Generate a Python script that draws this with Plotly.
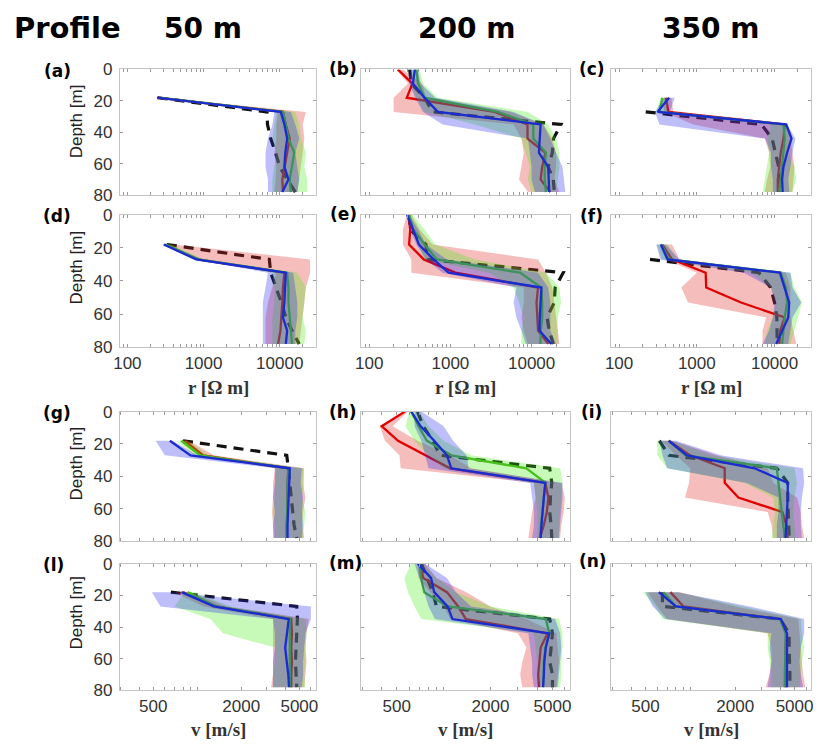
import plotly.graph_objects as go

W, H = 824, 753

# ---------------- data ----------------
depth_full = [0, 9, 18, 27, 35, 44, 53, 62, 70, 78]
depth_sub = [18, 27, 35, 44, 53, 62, 70, 78]

rho_ticks = [100, 1000, 10000]
vel_ticks = [500, 2000, 5000]

# (a)
a_true = [250, 6800, 6900, 7600, 8800, 10000, 12500, 16000]
a_red = [250, 11000, 12000, 13500, 12500, 11500, 10800, 11000]
a_green = [260, 11000, 12000, 13000, 15500, 14500, 13500, 14000]
a_blue = [245, 10300, 11500, 12500, 11800, 11500, 13000, 10800]
a_red_lo = [235, 9500, 9000, 9000, 8500, 9000, 8800, 8500]
a_red_hi = [270, 22000, 20000, 21000, 20000, 19000, 18000, 17000]
a_green_lo = [240, 9000, 8500, 8000, 9000, 8500, 8000, 8000]
a_green_hi = [280, 16000, 18000, 19000, 22000, 21000, 23000, 23000]
a_blue_lo = [230, 8500, 8000, 7000, 6500, 6500, 7000, 7000]
a_blue_hi = [265, 14000, 16000, 18000, 16000, 17000, 18000, 17000]

# (b)
b_true = [315, 330, 480, 600, 23000, 18600, 18000, 16000, 18500, 19000]
b_red = [225, 340, 290, 3500, 8900, 8900, 14800, 13500, 12900, 17000]
b_green = [380, 400, 480, 3800, 10500, 10500, 15000, 14500, 14500, 15000]
b_blue = [365, 345, 480, 700, 12900, 12600, 12300, 16000, 16300, 16500]
b_red_lo = [215, 300, 200, 200, 6000, 7500, 8000, 7500, 7000, 9000]
b_red_hi = [260, 450, 500, 5500, 14000, 18000, 20000, 20000, 19000, 22000]
b_green_lo = [330, 330, 380, 480, 2000, 7500, 8500, 9500, 9000, 10000]
b_green_hi = [420, 460, 700, 9000, 16000, 20000, 22000, 22000, 21000, 20000]
b_blue_lo = [320, 310, 370, 460, 800, 9000, 9500, 10000, 10000, 11000]
b_blue_hi = [400, 430, 650, 6000, 14000, 17000, 20000, 24000, 25000, 26000]

# (c)
c_true = [None, 220, 6800, 9300, 10300, 11300, 11500, 11500]
c_red = [400, 430, 13500, 13000, 12000, 11500, 11000, 11000]
c_green = [360, 330, 13000, 13500, 13000, 12500, 12000, 11500]
c_blue = [440, 313, 14100, 16500, 14500, 13000, 12500, 12700]
c_red_lo = [370, 380, 900, 7500, 8500, 8800, 8000, 7500]
c_red_hi = [470, 500, 14500, 16000, 17000, 18000, 17500, 17000]
c_green_lo = [340, 300, 9000, 8000, 8500, 8000, 7500, 7000]
c_green_hi = [420, 420, 15000, 17000, 15000, 18000, 19000, 17000]
c_blue_lo = [380, 290, 330, 7500, 9000, 9000, 9500, 9500]
c_blue_hi = [520, 450, 14500, 18500, 17000, 16000, 15000, 15500]

# (d)
d_true = [330, 7300, 7600, 9000, 10500, 12000, 14500, 18000]
d_red = [310, 850, 11500, 11000, 10800, 10500, 10200, 9500]
d_green = [320, 850, 12500, 13000, 13000, 13500, 14000, 14500]
d_blue = [300, 800, 12000, 11800, 11500, 11000, 12500, 12000]
d_red_lo = [300, 850, 9000, 8000, 7000, 6500, 6500, 6500]
d_red_hi = [400, 25000, 25000, 22000, 21000, 20000, 19000, 18000]
d_green_lo = [310, 800, 8000, 8500, 8500, 8000, 8000, 8000]
d_green_hi = [380, 1000, 17000, 22000, 21000, 20000, 22000, 21000]
d_blue_lo = [290, 750, 7000, 6500, 6000, 6000, 6000, 6000]
d_blue_hi = [340, 950, 15000, 16000, 17000, 17000, 16000, 16000]

# (e)
e_true = [310, 320, 500, 520, 24500, 19500, 19000, 15500, 16500, 18500]
e_red = [305, 320, 310, 470, 1150, 12000, 11500, 11700, 12000, 16000]
e_green = [310, 350, 480, 680, 7200, 13200, 13500, 13500, 13000, 12800]
e_blue = [293, 350, 410, 620, 950, 13200, 12800, 12600, 12500, 17500]
e_red_lo = [290, 260, 260, 330, 330, 8000, 8000, 7500, 8000, 9000]
e_red_hi = [330, 420, 600, 12000, 15000, 18000, 19000, 20000, 21000, 22000]
e_green_lo = [300, 330, 400, 480, 3000, 6000, 7000, 8000, 7500, 7500]
e_green_hi = [340, 480, 650, 2000, 15000, 22000, 23000, 21000, 21000, 21000]
e_blue_lo = [285, 320, 380, 500, 800, 6500, 6000, 6500, 7500, 8500]
e_blue_hi = [310, 400, 500, 900, 12000, 16000, 17000, 17000, 17000, 20000]

# (f)
f_true = [None, 250, 6300, 8900, 10000, 10700, 10800, 10800]
f_red = [360, 480, 1300, 1320, 3700, 13500, 11800, 11500]
f_green = [350, 440, 12000, 14000, 14500, 13500, 13000, 12500]
f_blue = [345, 420, 11700, 13500, 15400, 15000, 12500, 10500]
f_red_lo = [330, 400, 1000, 630, 770, 7800, 7000, 7000]
f_red_hi = [480, 600, 14000, 16000, 16000, 16000, 17500, 19000]
f_green_lo = [310, 350, 5000, 9000, 10500, 9500, 8000, 7500]
f_green_hi = [420, 550, 16000, 18000, 22500, 20000, 18000, 16000]
f_blue_lo = [300, 340, 4000, 9000, 10000, 9500, 8500, 7000]
f_blue_hi = [400, 600, 16000, 17000, 22000, 17000, 16000, 15000]

# (g)
g_true = [800, 4100, 4200, 4300, 4400, 4500, 4600, 4800]
g_red = [820, 1100, 4200, 4150, 4150, 4150, 4100, 4100]
g_green = [780, 1050, 4200, 4150, 4150, 4100, 4100, 4100]
g_blue = [650, 900, 4300, 4250, 4200, 4200, 4150, 4150]
g_red_lo = [760, 1000, 3400, 3300, 3300, 3250, 3300, 3300]
g_red_hi = [880, 1300, 5400, 5300, 5500, 5300, 5200, 5400]
g_green_lo = [720, 950, 3500, 3400, 3400, 3300, 3400, 3400]
g_green_hi = [860, 1200, 5300, 5400, 5200, 5500, 5400, 5300]
g_blue_lo = [520, 600, 3400, 3400, 3300, 3400, 3300, 3350]
g_blue_hi = [680, 1000, 5200, 5100, 5300, 5200, 5300, 5200]

# (h)
h_true = [680, 740, 850, 950, 4800, 4950, 4850, 4800, 4900, 4950]
h_red = [565, 400, 510, 760, 1100, 4500, 4700, 4600, 4400, 4150]
h_green = [620, 690, 780, 1120, 3400, 4500, 4400, 4300, 4250, 4150]
h_blue = [620, 710, 870, 1050, 1120, 4500, 4400, 4300, 4250, 4200]
h_red_lo = [560, 390, 420, 520, 530, 3800, 3900, 3700, 3600, 3500]
h_red_hi = [590, 470, 680, 1100, 1500, 5700, 6000, 5900, 5700, 5600]
h_green_lo = [600, 570, 650, 800, 1000, 3800, 3900, 4000, 4000, 4000]
h_green_hi = [700, 800, 1000, 1500, 5600, 5800, 5700, 5600, 5500, 5500]
h_blue_lo = [650, 650, 720, 760, 800, 3600, 3700, 3800, 3800, 3700]
h_blue_hi = [720, 1000, 1150, 1400, 1450, 5800, 5800, 5700, 5600, 5500]

# (i)
i_true = [620, 720, 3800, 4500, 4500, 4550, 4600, 4600]
i_red = [716, 1000, 1700, 1700, 2100, 4150, 4400, 4500]
i_green = [716, 930, 3800, 3900, 4000, 4100, 4200, 4300]
i_blue = [716, 950, 2700, 4500, 4500, 4450, 4400, 4350]
i_red_lo = [640, 800, 1000, 980, 920, 3300, 3500, 3600]
i_red_hi = [760, 1500, 3300, 3600, 5200, 5500, 5600, 5800]
i_green_lo = [600, 600, 700, 2300, 3600, 3700, 3600, 3500]
i_green_hi = [760, 1400, 5000, 5200, 5000, 4900, 5000, 5100]
i_blue_lo = [620, 650, 700, 2400, 3900, 3900, 3800, 3800]
i_blue_hi = [800, 1600, 5700, 5800, 5600, 5500, 5500, 5600]

# (l)
l_true = [660, 4800, 4850, 4800, 4750, 4700, 4750, 4800]
l_red = [800, 1350, 4400, 4450, 4400, 4450, 4400, 4400]
l_green = [860, 1350, 4300, 4300, 4300, 4300, 4300, 4300]
l_blue = [780, 1300, 4230, 4100, 4000, 4100, 4200, 4250]
l_red_lo = [700, 1100, 3300, 3300, 3300, 3300, 3300, 3200]
l_red_hi = [900, 1600, 5800, 5600, 5500, 5600, 5500, 5400]
l_green_lo = [820, 700, 1230, 1500, 3400, 3400, 3300, 3300]
l_green_hi = [950, 1700, 5500, 5600, 5500, 5500, 5400, 5500]
l_blue_lo = [490, 560, 3300, 3400, 3400, 3300, 3300, 3300]
l_blue_hi = [650, 6000, 6000, 5500, 5400, 5300, 5300, 5200]

# (m)
m_true = [720, 780, 850, 900, 4800, 5000, 4900, 4800, 5000, 5000]
m_red = [700, 740, 1050, 1240, 1390, 4650, 4200, 4100, 4050, 4100]
m_green = [700, 716, 750, 1060, 4530, 4770, 4500, 4400, 4400, 4350]
m_blue = [683, 830, 870, 1060, 1140, 4770, 4530, 4430, 4400, 4350]
m_red_lo = [680, 690, 820, 1000, 1100, 3000, 3400, 3200, 3100, 3200]
m_red_hi = [760, 900, 1400, 2000, 3400, 5300, 5400, 5500, 5400, 5300]
m_green_lo = [620, 560, 590, 650, 720, 3800, 3900, 4000, 4000, 4100]
m_green_hi = [740, 900, 1200, 2000, 5500, 5800, 5800, 5700, 5700, 5600]
m_blue_lo = [650, 700, 750, 800, 880, 3500, 3600, 3700, 3700, 3800]
m_blue_hi = [760, 1050, 1200, 1500, 5200, 5600, 5700, 5600, 5500, 5400]

# (n)
n_true = [650, 650, 4000, 4600, 4600, 4650, 4650, 4650]
n_red = [735, 900, 4000, 4400, 4350, 4350, 4350, 4350]
n_green = [660, 800, 4000, 4350, 4350, 4300, 4300, 4300]
n_blue = [615, 800, 4050, 4450, 4450, 4450, 4450, 4450]
n_red_lo = [520, 600, 700, 3300, 3500, 3500, 3400, 3200]
n_red_hi = [850, 2000, 5300, 5400, 5500, 5600, 5700, 5900]
n_green_lo = [480, 580, 650, 3300, 3300, 3400, 3500, 3500]
n_green_hi = [820, 2200, 5500, 5600, 5800, 5600, 5500, 5400]
n_blue_lo = [500, 560, 680, 3500, 3400, 3500, 3400, 3300]
n_blue_hi = [830, 2500, 5800, 5800, 5500, 5400, 5500, 5700]

g_ = globals()
letters = ["a", "b", "c", "d", "e", "f", "g", "h", "i", "l", "m", "n"]
full_depth_panels = {"b", "e", "h", "m"}

# ---------------- style ----------------
RED_FILL = "rgba(225,35,35,0.30)"
GREEN_FILL = "rgba(70,235,20,0.30)"
BLUE_FILL = "rgba(40,40,240,0.30)"
RED_LINE = "#e00000"
GREEN_LINE = "#47c11b"
BLUE_LINE = "#1b2bd2"

col_px = [(115, 313), (359, 570), (612, 814)]
row_px = [(62, 191), (211, 347), (413, 546), (569, 699)]

RHO_RANGE = [1.9, 4.47]
VEL_RANGE = [2.47, 3.81]

rho_minor = [90, 200, 300, 400, 500, 600, 700, 800, 900,
             2000, 3000, 4000, 5000, 6000, 7000, 8000, 9000, 20000]
vel_minor = [300, 400, 600, 700, 800, 900, 1000, 3000, 4000, 6000]

fig = go.Figure()
layout = {}

for k, L in enumerate(letters):
    idx = k + 1
    row, col = divmod(k, 3)
    xa = "x" if idx == 1 else f"x{idx}"
    ya = "y" if idx == 1 else f"y{idx}"
    depths = depth_full if L in full_depth_panels else depth_sub

    def band(lo, hi, color):
        fig.add_trace(go.Scatter(
            x=list(lo) + list(hi)[::-1], y=depths + depths[::-1],
            fill="toself", fillcolor=color, mode="lines",
            line=dict(width=0, color=color), hoverinfo="skip",
            showlegend=False, xaxis=xa, yaxis=ya))

    def line(vals, color, width=2.3, dash=None):
        xs = [v for v in vals if v is not None]
        ys = [d for v, d in zip(vals, depths) if v is not None]
        fig.add_trace(go.Scatter(
            x=xs, y=ys, mode="lines",
            line=dict(color=color, width=width, dash=dash),
            showlegend=False, xaxis=xa, yaxis=ya))

    line(g_[f"{L}_true"], "#111111", width=3.2, dash="10px,7px")
    band(g_[f"{L}_red_lo"], g_[f"{L}_red_hi"], RED_FILL)
    line(g_[f"{L}_red"], RED_LINE)
    band(g_[f"{L}_green_lo"], g_[f"{L}_green_hi"], GREEN_FILL)
    line(g_[f"{L}_green"], GREEN_LINE)
    band(g_[f"{L}_blue_lo"], g_[f"{L}_blue_hi"], BLUE_FILL)
    line(g_[f"{L}_blue"], BLUE_LINE)

    is_rho = row < 2
    labels_shown = row in (1, 3)
    major = rho_ticks if is_rho else vel_ticks
    minor = rho_minor if is_rho else vel_minor
    tv = major + minor
    tt = [str(v) for v in major] + [""] * len(minor)
    x0, x1 = col_px[col]
    y0, y1 = row_px[row]
    axis_common = dict(
        showline=True, linecolor="#c4c4c4", linewidth=1, mirror="ticks",
        ticks="inside", ticklen=3, tickcolor="#9a9a9a", tickwidth=1,
        showgrid=False, zeroline=False,
        tickfont=dict(family="Liberation Sans, Arial", size=17, color="#333333"),
    )
    layout[("xaxis" if idx == 1 else f"xaxis{idx}")] = dict(
        axis_common, type="log", range=RHO_RANGE if is_rho else VEL_RANGE,
        domain=[x0 / W, x1 / W], anchor=ya,
        tickmode="array", tickvals=tv, ticktext=tt,
        showticklabels=labels_shown, ticklabelstandoff=0)
    layout[("yaxis" if idx == 1 else f"yaxis{idx}")] = dict(
        axis_common, range=[80, 0], domain=[1 - y1 / H, 1 - y0 / H],
        anchor=xa, tickmode="array", tickvals=[0, 20, 40, 60, 80],
        showticklabels=(col == 0), ticklabelstandoff=3)

ann = []


def A(text, x, y, size, family="DejaVu Sans", bold=True, angle=0, color="#000"):
    t = f"<b>{text}</b>" if bold else text
    ann.append(dict(text=t, x=x / W, y=1 - y / H, xref="paper", yref="paper",
                    showarrow=False, xanchor="center", yanchor="middle",
                    textangle=angle, font=dict(family=family, size=size, color=color)))


A("Profile", 62, 20, 29)
A("50 m", 199, 20, 28)
A("200 m", 466, 20, 28)
A("350 m", 712, 20, 28)

panel_lab_pos = [(52, 64), (341, 62), (592, 62),
                 (52, 212), (341, 210), (592, 212),
                 (52, 414), (341, 413), (592, 413),
                 (48, 570), (343, 568), (593, 566)]
for L, (px, py) in zip(letters, panel_lab_pos):
    A(f"({L})", px, py, 17)

for yc in [115, 265, 466, 619]:
    A("Depth [m]", 71, yc, 17, family="Liberation Sans, Arial", bold=False,
      angle=-90, color="#222")

for xc in [215, 465, 713]:
    A("r [Ω m]", xc, 388, 19, family="Liberation Serif, Times New Roman", color="#333")
    A("v [m/s]", xc, 739, 19, family="Liberation Serif, Times New Roman", color="#333")

fig.update_layout(
    width=W, height=H, margin=dict(l=0, r=0, t=0, b=0),
    paper_bgcolor="white", plot_bgcolor="white",
    showlegend=False, annotations=ann, **layout)

fig.write_html("out.html")
